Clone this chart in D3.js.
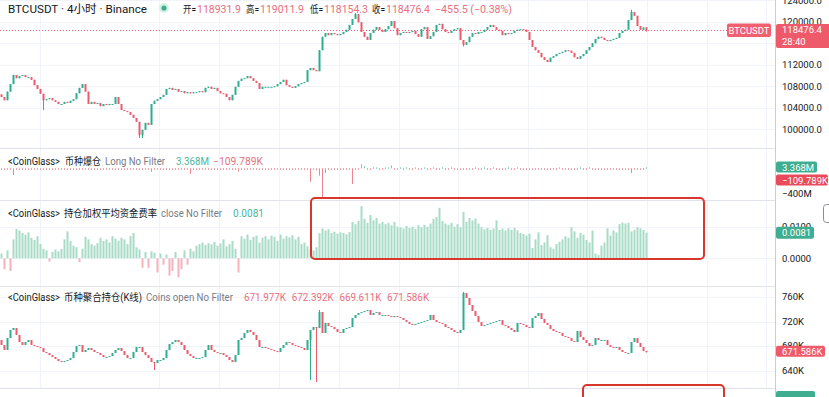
<!doctype html>
<html>
<head>
<meta charset="utf-8">
<title>BTCUSDT 4小时</title>
<script src="https://d3js.org/d3.v7.min.js"></script>
<style>
  html, body { margin: 0; padding: 0; background: #fff; }
  svg { display: block; font-family: Roboto, "Noto Sans CJK SC", sans-serif; }
</style>
</head>
<body>
<svg id="chart" width="829" height="397"></svg>
<script>
// BTCUSDT 4h closes, in thousands of USDT (open = previous close)
var btcOpen0 = 106.5;
var btcClose = [
  106.0,105.4,107.0,108.4,110.1,109.5,109.9,110.1,109.7,109.7,
  109.2,108.2,107.5,106.6,105.4,105.6,105.8,105.4,105.1,104.7,
  104.7,105.1,104.9,105.3,105.6,106.7,107.7,108.4,107.0,104.7,
  105.1,104.7,104.9,104.3,104.7,104.5,104.7,104.7,106.0,104.7,
  103.6,103.4,103.2,102.7,102.1,101.4,98.9,99.9,101.2,100.8,
  104.7,105.3,105.6,106.0,106.4,107.5,107.7,107.3,107.5,107.0,
  107.1,106.7,106.9,106.7,106.9,106.9,107.1,106.9,107.7,107.9,
  107.5,107.7,107.1,106.7,106.6,106.0,105.4,106.4,107.9,109.0,
  109.4,109.5,109.9,109.5,109.0,108.6,107.5,107.9,107.9,107.9,
  107.9,108.0,108.4,108.8,109.2,108.2,107.9,107.7,108.0,108.4,
  108.6,108.8,111.0,111.4,111.0,110.8,114.7,117.2,117.9,117.5,
  117.9,117.7,117.5,117.7,118.1,118.5,119.4,120.5,121.4,119.9,
  118.1,117.2,116.6,117.9,118.5,119.0,118.5,118.1,118.6,119.2,
  120.1,118.8,117.5,117.9,118.1,117.9,118.1,118.3,117.7,117.2,
  118.6,119.0,116.8,117.3,118.1,119.4,119.6,118.6,118.1,117.9,
  118.3,118.6,118.8,116.6,115.7,116.2,117.2,117.9,117.7,118.1,
  118.1,118.5,119.0,119.4,119.0,118.5,118.3,117.5,117.9,117.7,
  117.9,118.3,118.5,118.6,118.5,118.1,116.6,115.3,114.7,114.2,
  113.4,112.9,112.5,113.3,113.6,114.0,114.2,114.4,114.7,114.6,
  114.2,113.4,113.1,113.6,114.0,114.7,115.3,116.0,116.8,117.2,
  117.0,116.6,116.4,116.6,116.8,117.0,117.9,118.3,118.5,120.3,
  121.8,121.1,119.2,118.5,118.9319,118.4764
];
// extra wicks [high, low]
var btcWicks = {14: [null, 103.6], 46: [null, 98.4], 47: [null, 98.4], 118: [121.6, null],
  154: [null, 115.4], 210: [122.2, null], 215: [119.0119, 118.1543]};

// CoinGlass long liquidations, millions
var liq = [
  -8,-3,-12,-5,-105,-6,-4,-10,-3,-5,
  -6,-14,-4,-8,-18,-5,-3,-9,-4,-6,
  -5,-10,-3,-7,-4,-12,-6,-3,-8,-5,
  -4,-9,-6,-3,-11,-5,-7,-4,-16,-6,
  -5,-8,-3,-12,-6,-4,-20,-15,-7,-5,
  -55,-6,-4,-8,-3,-10,-5,-7,-4,-6,
  -3,-9,-5,-85,-6,-4,-7,-3,-8,-5,
  -4,-6,-10,-3,-5,-8,-4,-12,-6,-50,
  -5,-3,-7,-9,-4,-6,-14,-5,-3,-8,
  -6,-4,-10,-5,-7,-3,-9,-5,-6,-4,
  -8,-5,-12,-210,-20,-30,-115,-460,-75,-15,
  -10,-6,-8,-4,-12,-6,-18,-245,-10,-5,
  65,35,-6,-4,8,5,-8,-3,6,4,
  45,-5,-4,8,-6,3,-5,-4,6,-3,
  -4,5,-6,-3,4,-5,-8,3,-4,-6,
  5,-3,-6,-4,-12,-8,-5,-3,4,-5,
  -4,3,-6,-5,4,-3,-5,-8,-4,3,
  -5,-4,3,-6,-5,-8,-12,-15,-10,-6,
  -8,-12,-6,-5,-4,-3,5,-4,-6,-3,
  -5,-7,-4,3,-5,-6,4,-3,-8,-5,
  -6,-4,-5,-3,-7,-4,-6,-5,-8,-10,
  -75,-12,-8,-5,-4,3.368
];

// OI-weighted funding rate
var funding = [
  0.0015,-0.0035,0.0025,-0.0040,0.0060,0.0093,0.0088,0.0080,0.0075,0.0082,
  0.0065,0.0058,0.0070,0.0045,0.0030,0.0025,-0.0010,0.0020,0.0028,0.0022,
  0.0030,0.0060,0.0085,0.0055,0.0040,0.0035,-0.0012,0.0030,0.0068,0.0060,
  0.0045,0.0040,0.0048,0.0065,0.0055,0.0060,0.0050,0.0070,0.0062,0.0055,
  0.0065,0.0060,0.0045,0.0070,0.0080,0.0035,0.0028,-0.0030,0.0020,-0.0030,
  0.0022,0.0018,-0.0045,0.0015,-0.0020,0.0012,-0.0055,-0.0040,0.0020,-0.0060,
  -0.0035,0.0025,-0.0020,0.0030,0.0022,0.0040,0.0045,0.0050,0.0042,0.0048,
  0.0044,0.0052,0.0040,0.0047,0.0060,0.0038,0.0045,0.0055,0.0030,-0.0045,
  0.0070,0.0062,0.0075,0.0058,0.0068,0.0072,0.0050,0.0065,0.0070,0.0060,
  0.0072,0.0068,0.0055,0.0075,0.0062,0.0070,0.0066,0.0073,0.0060,0.0068,
  0.0045,0.0050,0.0038,0.0030,0.0025,0.0035,0.0080,0.0095,0.0088,0.0092,
  0.0080,0.0084,0.0078,0.0082,0.0080,0.0076,0.0083,0.0115,0.0108,0.0118,
  0.0165,0.0125,0.0112,0.0137,0.0120,0.0128,0.0110,0.0115,0.0108,0.0112,
  0.0104,0.0115,0.0100,0.0098,0.0094,0.0102,0.0096,0.0100,0.0092,0.0104,
  0.0098,0.0106,0.0100,0.0110,0.0125,0.0130,0.0160,0.0118,0.0110,0.0106,
  0.0112,0.0100,0.0108,0.0098,0.0147,0.0115,0.0128,0.0120,0.0126,0.0110,
  0.0098,0.0092,0.0096,0.0090,0.0094,0.0120,0.0090,0.0094,0.0088,0.0095,
  0.0090,0.0096,0.0088,0.0080,0.0077,0.0072,0.0078,0.0033,0.0060,0.0082,
  0.0042,0.0050,0.0073,0.0035,0.0030,0.0045,0.0052,0.0060,0.0070,0.0065,
  0.0098,0.0085,0.0065,0.0080,0.0075,0.0058,0.0050,0.0088,0.0015,0.0010,
  0.0040,0.0050,0.0095,0.0072,0.0088,0.0082,0.0108,0.0113,0.0110,0.0112,
  0.0085,0.0090,0.0098,0.0095,0.0090,0.0081
];

// aggregated open interest, thousands of coins (open = previous close)
var oiOpen0 = 690.0;
var oiClose = [
  681.8,673.7,693.2,706.3,709.5,698.1,686.7,681.8,686.7,690.0,
  681.8,680.2,678.6,676.9,670.4,668.8,665.5,662.3,659.0,655.7,
  654.1,655.7,657.4,660.6,670.4,680.2,681.8,670.4,673.7,676.9,
  673.7,670.4,668.8,665.5,662.3,662.3,663.9,668.8,673.7,676.9,
  672.0,665.5,660.6,660.6,670.4,678.6,678.6,670.4,665.5,660.6,
  654.1,652.5,657.4,657.4,660.6,673.7,683.4,686.7,690.0,686.7,
  681.8,673.7,667.1,663.9,660.6,660.6,660.6,662.3,673.7,681.8,
  673.7,670.4,668.8,668.8,665.5,662.3,657.4,654.1,665.5,690.0,
  693.2,701.4,706.3,703.0,698.1,690.0,678.6,678.6,676.9,675.3,
  673.7,672.0,670.4,676.9,681.8,686.7,685.1,681.8,680.2,678.6,
  676.9,673.7,690.0,706.3,711.1,709.5,735.6,701.4,717.7,712.7,
  711.1,707.9,703.0,701.4,707.9,709.5,711.1,725.8,730.7,733.9,
  735.6,737.2,738.8,730.7,733.9,735.6,730.7,730.7,730.7,729.1,
  727.4,729.1,727.4,725.8,722.5,719.3,716.1,714.4,716.1,717.7,
  719.3,720.9,722.5,730.7,722.5,719.3,717.7,716.1,711.1,709.5,
  706.3,703.0,701.4,706.3,766.5,758.4,747.0,737.2,729.1,719.3,
  712.7,714.4,716.1,717.7,719.3,720.9,722.5,714.4,712.7,709.5,
  706.3,703.0,717.7,716.1,714.4,711.1,709.5,725.8,729.1,733.9,
  724.2,717.7,714.4,707.9,704.6,703.0,701.4,696.5,694.9,693.2,
  688.4,686.7,704.6,694.9,690.0,685.1,680.2,681.8,693.2,690.0,
  690.0,690.0,681.8,678.6,676.9,678.6,673.7,670.4,668.8,668.8,
  686.7,693.2,685.1,678.6,671.977,671.586
];
var oiWicks = {51: [null, 641.1], 103: [null, 624.8], 105: [null, 621.6], 106: [738.8, null],
  154: [768.1, null], 215: [672.392, 669.611]};

// price axis ticks and time grid (candle index)
var btcTicks = [100, 104, 108, 112, 116, 120, 124];
var btcLabelTicks = [100, 104, 108, 112, 120, 124];
var fundTicks = [0, 0.01];
var oiTicks = [640, 680, 720, 760];
var liqTicks = [-400];
var timeGrid = [13.3, 53, 73, 93, 113, 133, 152.7, 176, 195.7, 215.7, 235.7, 255.3];

var UP = "#2fae8e", DOWN = "#ec5b6b", GRID = "#f0f3fa", TXT = "#131722", GRAY = "#787b86";
var PINK = "#e8707f", TEAL = "#4db59a";

var svg = d3.select("#chart");
svg.append("rect").attr("width", 829).attr("height", 397).attr("fill", "#fff");

var x = d3.scaleLinear().domain([0, 216]).range([0, 648]);
var axisX = 775;

var panes = {
  btc: [0, 148], liq: [149, 200], fund: [201, 286], oi: [287, 388]
};

var yBtc = d3.scaleLinear().domain([100, 120]).range([129.3, 21.7]);
var yLiq = d3.scaleLinear().domain([0, -400]).range([168.3, 194]);
var yFund = d3.scaleLinear().domain([0, 0.01]).range([258.3, 226.7]);
var yOi = d3.scaleLinear().domain([640, 760]).range([370.7, 297]);

// clip paths
var defs = svg.append("defs");
Object.keys(panes).forEach(function (k) {
  defs.append("clipPath").attr("id", "clip-" + k)
    .append("rect").attr("x", 0).attr("y", panes[k][0])
    .attr("width", axisX).attr("height", panes[k][1] - panes[k][0]);
});

// vertical grid
svg.append("g").selectAll("line").data(timeGrid).enter().append("line")
  .attr("x1", d => Math.round(x(d)) + 0.5).attr("x2", d => Math.round(x(d)) + 0.5)
  .attr("y1", 0).attr("y2", 388).attr("stroke", GRID);

function hGrid(ticks, y) {
  svg.append("g").selectAll("line").data(ticks).enter().append("line")
    .attr("x1", 0).attr("x2", axisX)
    .attr("y1", d => Math.round(y(d)) + 0.5).attr("y2", d => Math.round(y(d)) + 0.5)
    .attr("stroke", GRID);
}
hGrid(btcTicks, yBtc);
hGrid(fundTicks, yFund);
hGrid(oiTicks, yOi);

// pane separators
svg.append("g").selectAll("line").data([148, 200, 286, 388]).enter().append("line")
  .attr("x1", 0).attr("x2", 829).attr("y1", d => d + 0.5).attr("y2", d => d + 0.5)
  .attr("stroke", "#e0e3eb");

function toCandles(close, open0, wicks) {
  return close.map(function (c, i) {
    var o = i ? close[i - 1] : open0;
    var h = Math.max(o, c), l = Math.min(o, c);
    var w = wicks[i];
    if (w) { if (w[0] != null) h = w[0]; if (w[1] != null) l = w[1]; }
    return { i: i, o: o, h: h, l: l, c: c };
  });
}

function drawCandles(data, y, clip) {
  var g = svg.append("g").attr("clip-path", "url(#clip-" + clip + ")");
  g.selectAll("line").data(data).enter().append("line")
    .attr("x1", d => Math.floor(x(d.i + 0.5)) + 0.5)
    .attr("x2", d => Math.floor(x(d.i + 0.5)) + 0.5)
    .attr("y1", d => y(d.h)).attr("y2", d => y(d.l))
    .attr("stroke", d => d.c >= d.o ? UP : DOWN).attr("stroke-width", 1);
  g.selectAll("rect").data(data).enter().append("rect")
    .attr("x", d => Math.floor(x(d.i + 0.5)) - 0.5)
    .attr("width", 2)
    .attr("y", d => y(Math.max(d.o, d.c)))
    .attr("height", d => Math.max(1, Math.abs(y(d.o) - y(d.c))))
    .attr("fill", d => d.c >= d.o ? UP : DOWN);
}

var btc = toCandles(btcClose, btcOpen0, btcWicks);
var oi = toCandles(oiClose, oiOpen0, oiWicks);

// price line
var last = btc[btc.length - 1];
svg.append("line").attr("x1", 0).attr("x2", 727)
  .attr("y1", Math.round(yBtc(last.c)) + 0.5).attr("y2", Math.round(yBtc(last.c)) + 0.5)
  .attr("stroke", "#f0606e").attr("stroke-dasharray", "1,2");

drawCandles(btc, yBtc, "btc");

// liquidation bars
svg.append("g").attr("clip-path", "url(#clip-liq)")
  .selectAll("rect").data(liq).enter().append("rect")
  .attr("x", (d, i) => Math.floor(x(i + 0.5)))
  .attr("width", 1)
  .attr("y", d => d < 0 ? yLiq(0) : Math.min(yLiq(d), yLiq(0) - 1))
  .attr("height", d => Math.max(1.5, Math.abs(yLiq(d) - yLiq(0))))
  .attr("fill", d => d < 0 ? "#ee8591" : "#7fcab3");

// funding bars
svg.append("g").attr("clip-path", "url(#clip-fund)")
  .selectAll("rect").data(funding).enter().append("rect")
  .attr("x", (d, i) => Math.floor(x(i + 0.5)) - 0.5)
  .attr("width", 2)
  .attr("y", d => d >= 0 ? yFund(d) : yFund(0))
  .attr("height", d => Math.abs(yFund(d) - yFund(0)))
  .attr("fill", d => d >= 0 ? "#a9dcc7" : "#f4b3bc");

drawCandles(oi, yOi, "oi");

// annotation boxes
svg.append("rect").attr("x", 311).attr("y", 198).attr("width", 393).attr("height", 61)
  .attr("rx", 4).attr("fill", "none").attr("stroke", "#d9362c").attr("stroke-width", 2);
svg.append("rect").attr("x", 583).attr("y", 385).attr("width", 141).attr("height", 30)
  .attr("rx", 4).attr("fill", "none").attr("stroke", "#d9362c").attr("stroke-width", 2);

// right price scale
svg.append("rect").attr("x", axisX).attr("y", 0).attr("width", 54).attr("height", 397).attr("fill", "#fff");
svg.append("line").attr("x1", axisX + 0.5).attr("x2", axisX + 0.5).attr("y1", 0).attr("y2", 397)
  .attr("stroke", "#c9ccd3");

function axisLabels(ticks, y, fmt) {
  svg.append("g").selectAll("text").data(ticks).enter().append("text")
    .attr("x", 782).attr("y", d => y(d)).attr("dy", "0.35em")
    .attr("font-size", 9.5).attr("fill", TXT).text(fmt);
}
axisLabels(btcLabelTicks, yBtc, d => d3.format(".1f")(d * 1000));
axisLabels(liqTicks, yLiq, d => "\u2212" + Math.abs(d) + "M");
axisLabels(fundTicks, yFund, d => d3.format(".4f")(d));
axisLabels(oiTicks, yOi, d => d + "K");

function tag(x0, yc, w, h, color, lines) {
  svg.append("rect").attr("x", x0).attr("y", yc - h / 2).attr("width", w).attr("height", h)
    .attr("rx", 2).attr("fill", color);
  lines.forEach(function (t, k) {
    svg.append("text").attr("x", x0 + 6).attr("y", yc - h / 2 + 6 + k * 11.5).attr("dy", "0.35em")
      .attr("font-size", 9.5).attr("fill", "#fff").text(t);
  });
}
// BTCUSDT name tag
svg.append("rect").attr("x", 727).attr("y", 23.5).attr("width", 44).attr("height", 13.5)
  .attr("rx", 2).attr("fill", "#f0606e");
svg.append("text").attr("x", 749).attr("y", 30.5).attr("dy", "0.35em").attr("text-anchor", "middle")
  .attr("font-size", 9.5).attr("fill", "#fff").text("BTCUSDT");
tag(776, 36, 56, 24, "#ef5a6a", [d3.format(".1f")(last.c * 1000), "28:40"]);
tag(776, 167, 41, 11, "#3fad8f", ["3.368M"]);
tag(776, 180, 52, 11, "#ea4a5a", ["\u2212109.789K"]);
tag(776, yFund(funding[funding.length - 1]), 38, 12, "#3fad8f", ["0.0081"]);
tag(776, yOi(oi[oi.length - 1].c), 49, 11, "#ef5a6a", [oi[oi.length - 1].c.toFixed(3) + "K"]);
svg.append("rect").attr("x", 776).attr("y", 391).attr("width", 39).attr("height", 12)
  .attr("rx", 2).attr("fill", "#3fad8f");

// small button on right edge
svg.append("rect").attr("x", 823.5).attr("y", 204.5).attr("width", 12).attr("height", 18)
  .attr("rx", 3).attr("fill", "#fff").attr("stroke", "#8a8d96");

// legends: each piece squeezed to the width it takes in the screenshot
function seg(xp, yp, str, color, w, size) {
  svg.append("text").attr("x", xp).attr("y", yp).attr("font-size", size || 10)
    .attr("fill", color).attr("textLength", w).attr("lengthAdjust", "spacingAndGlyphs")
    .text(str);
}
seg(8, 12.5, "BTCUSDT · 4小时 · Binance", TXT, 139, 11.5);
svg.append("circle").attr("cx", 164).attr("cy", 8).attr("r", 5).attr("fill", "#d9f0e8");
svg.append("circle").attr("cx", 164).attr("cy", 8).attr("r", 2.6).attr("fill", "#3fad8f");
var ohlc = [["开=", last.o, 183], ["高=", last.h, 246], ["低=", last.l, 310], ["收=", last.c, 372]];
ohlc.forEach(function (p) {
  seg(p[2], 12.5, p[0], TXT, 13);
  seg(p[2] + 14, 12.5, d3.format(".1f")(p[1] * 1000), PINK, 44);
});
var chg = (last.c - btc[btc.length - 2].c) * 1000;
seg(435, 12.5, "\u2212" + Math.abs(chg).toFixed(1) + " (\u2212" +
  Math.abs(chg / (btc[btc.length - 2].c * 1000) * 100).toFixed(2) + "%)", PINK, 77);

seg(8, 165, "<CoinGlass>", TXT, 52);
seg(65, 165, "币种爆仓", TXT, 36);
seg(105, 165, "Long No Filter", GRAY, 60);
seg(176, 165, "3.368M", TEAL, 33);
seg(213, 165, "\u2212109.789K", PINK, 50);

seg(8, 217, "<CoinGlass>", TXT, 52);
seg(64, 217, "持仓加权平均资金费率", TXT, 93);
seg(161, 217, "close No Filter", GRAY, 61);
seg(233, 217, "0.0081", TEAL, 31);

seg(8, 301, "<CoinGlass>", TXT, 52);
seg(64, 301, "币种聚合持仓(K线)", TXT, 78);
seg(146, 301, "Coins open No Filter", GRAY, 87);
var lo = oi[oi.length - 1];
[lo.o, lo.h, lo.l, lo.c].forEach(function (v, k) {
  seg(244 + k * 47.7, 301, v.toFixed(3) + "K", PINK, 42);
});
</script>
</body>
</html>
